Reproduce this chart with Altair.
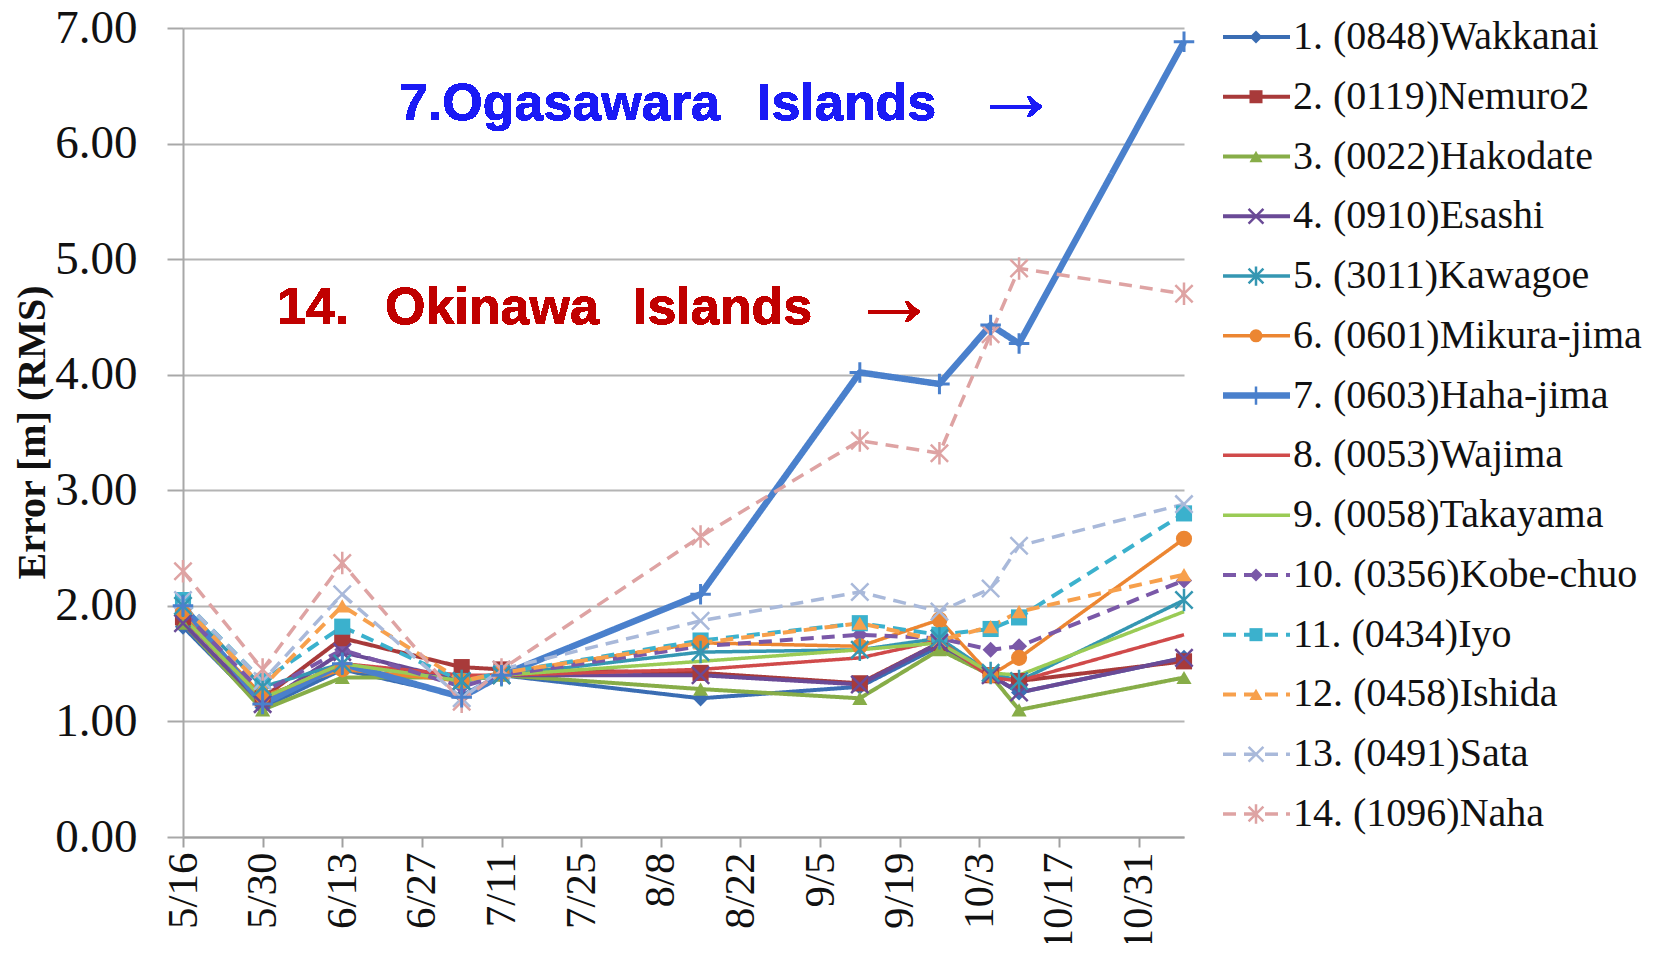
import altair as alt
import pandas as pd

# ---- data ----
dates = ["2013-05-16", "2013-05-30", "2013-06-13", "2013-07-04", "2013-07-11",
         "2013-08-15", "2013-09-12", "2013-09-26", "2013-10-05", "2013-10-10",
         "2013-11-08"]
tick_dates = ["2013-05-16", "2013-05-30", "2013-06-13", "2013-06-27", "2013-07-11",
              "2013-07-25", "2013-08-08", "2013-08-22", "2013-09-05", "2013-09-19",
              "2013-10-03", "2013-10-17", "2013-10-31"]
names = ["1. (0848)Wakkanai", "2. (0119)Nemuro2", "3. (0022)Hakodate",
         "4. (0910)Esashi", "5. (3011)Kawagoe", "6. (0601)Mikura-jima",
         "7. (0603)Haha-jima", "8. (0053)Wajima", "9. (0058)Takayama",
         "10. (0356)Kobe-chuo", "11. (0434)Iyo", "12. (0458)Ishida",
         "13. (0491)Sata", "14. (1096)Naha"]

wakkanai = [1.82, 1.12, 1.45, 1.22, 1.40, 1.20, 1.30, 1.65, 1.40, 1.25, 1.55]
nemuro2  = [1.90, 1.20, 1.72, 1.47, 1.45, 1.42, 1.33, 1.68, 1.40, 1.35, 1.52]
hakodate = [1.85, 1.10, 1.38, 1.38, 1.40, 1.28, 1.20, 1.62, 1.40, 1.10, 1.38]
esashi   = [1.85, 1.15, 1.60, 1.35, 1.40, 1.40, 1.32, 1.68, 1.40, 1.25, 1.55]
kawagoe  = [2.00, 1.30, 1.50, 1.35, 1.40, 1.60, 1.62, 1.72, 1.42, 1.35, 2.05]
mikura   = [1.95, 1.22, 1.45, 1.35, 1.42, 1.68, 1.65, 1.88, 1.40, 1.55, 2.58]
hahajima = [2.00, 1.15, 1.50, 1.21, 1.40, 2.10, 4.02, 3.92, 4.43, 4.27, 6.88]
wajima   = [1.90, 1.20, 1.50, 1.40, 1.40, 1.45, 1.55, 1.70, 1.38, 1.35, 1.75]
takayama = [1.90, 1.20, 1.50, 1.35, 1.40, 1.52, 1.62, 1.68, 1.42, 1.40, 1.95]
kobe     = [1.95, 1.25, 1.62, 1.30, 1.40, 1.65, 1.75, 1.72, 1.62, 1.65, 2.22]
iyo      = [2.05, 1.35, 1.82, 1.35, 1.42, 1.70, 1.85, 1.75, 1.80, 1.90, 2.80]
ishida   = [2.00, 1.30, 2.00, 1.35, 1.42, 1.68, 1.85, 1.70, 1.82, 1.95, 2.27]
sata     = [2.05, 1.35, 2.10, 1.20, 1.45, 1.87, 2.12, 1.95, 2.15, 2.52, 2.88]
naha     = [2.30, 1.45, 2.37, 1.17, 1.45, 2.60, 3.43, 3.32, 4.35, 4.92, 4.70]

series_values = [wakkanai, nemuro2, hakodate, esashi, kawagoe, mikura, hahajima,
                 wajima, takayama, kobe, iyo, ishida, sata, naha]

# ---- styles ----
colors = ["#3a6db3", "#a83a3a", "#87ad48", "#6a4a96", "#3597b2", "#ec8632",
          "#4a80cc", "#d04a4a", "#9acb55", "#7a58a8", "#3bb1cd", "#f7a04c",
          "#a9b9da", "#dea3a3"]
dashes = [[1, 0]] * 9 + [[13, 8]] * 5
widths = [4.0, 4.0, 4.0, 4.0, 3.5, 3.5, 6.5, 3.5, 3.5, 4.0, 4.0, 4.0, 3.5, 3.5]
X_PATH = "M-1,-1L1,1M-1,1L1,-1"
AST_PATH = "M-1,-1L1,1M-1,1L1,-1M0,-1.3L0,1.3"
PLUS_PATH = "M-1,0L1,0M0,-1L0,1"
filled_groups = {"diamond": [0, 9], "square": [1, 10], "triangle-up": [2, 11],
                 "circle": [5]}
stroke_groups = {X_PATH: [3, 12], AST_PATH: [4, 13], PLUS_PATH: [6]}

rows = []
for i, (n, vals) in enumerate(zip(names, series_values)):
    for d, v in zip(dates, vals):
        rows.append({"series": n, "idx": i, "date": d, "value": v, "sw": widths[i]})
df = pd.DataFrame(rows)
leg = pd.DataFrame({"series": names, "idx": list(range(len(names))), "sw": widths})

color_scale = alt.Scale(domain=names, range=colors)
dash_scale = alt.Scale(domain=names, range=dashes)

SERIF = "Liberation Serif"
SANS = "Liberation Sans"
W, H = 1001, 809

x_enc = alt.X("date:T",
              scale=alt.Scale(domain=[alt.DateTime(year=2013, month=5, date=16, utc=True),
                                      alt.DateTime(year=2013, month=11, date=8, utc=True)]),
              axis=alt.Axis(values=[alt.DateTime(year=int(t[:4]), month=int(t[5:7]), date=int(t[8:]), utc=True)
                                    for t in tick_dates],
                            labelExpr="utcFormat(datum.value, '%-m/%-d')",
                            labelAngle=270, labelAlign="right", labelBaseline="middle",
                            labelFont=SERIF, labelFontSize=43, labelColor="#111",
                            tickSize=10, tickColor="#a0a0a0", tickWidth=2,
                            labelPadding=5, domainColor="#a0a0a0", domainWidth=2,
                            grid=False, title=None, labelOverlap=False))
y_enc = alt.Y("value:Q",
              scale=alt.Scale(domain=[0, 7], nice=False),
              axis=alt.Axis(values=[0, 1, 2, 3, 4, 5, 6, 7], format=".2f",
                            labelFont=SERIF, labelFontSize=47, labelColor="#111",
                            tickSize=16, tickColor="#a8a8a8", tickWidth=2,
                            labelPadding=30, domainColor="#a8a8a8", domainWidth=2,
                            gridColor="#b4b4b4", gridWidth=2,
                            title="Error [m] (RMS)", titleFont=SERIF, titleFontSize=40,
                            titleFontWeight="bold", titleColor="#111",
                            titleAngle=270, titleX=-151, titleY=404,
                            titleAlign="center", titleBaseline="middle"))

base = alt.Chart(df)
color_enc = alt.Color("series:N", scale=color_scale, legend=None)
lines = base.mark_line(strokeJoin="round").encode(
    x=x_enc, y=y_enc,
    color=color_enc,
    strokeDash=alt.StrokeDash("series:N", scale=dash_scale, legend=None),
    strokeWidth=alt.StrokeWidth("sw:Q", scale=None),
    detail="series:N",
    order="date:T",
)

point_layers = []
for shp, idxs in filled_groups.items():
    point_layers.append(
        base.transform_filter(alt.FieldOneOfPredicate(field="series", oneOf=[names[i] for i in idxs]))
        .mark_point(filled=True, opacity=1, size=260 if shp != "triangle-up" else 230, shape=shp)
        .encode(x="date:T", y="value:Q", color=color_enc))
for shp, idxs in stroke_groups.items():
    point_layers.append(
        base.transform_filter(alt.FieldOneOfPredicate(field="series", oneOf=[names[i] for i in idxs]))
        .mark_point(filled=False, opacity=1, size=420 if shp == PLUS_PATH else 300,
                    strokeWidth=3 if shp == PLUS_PATH else 2.5, shape=shp)
        .encode(x="date:T", y="value:Q", color=color_enc))

# annotations
ann_blue = "#1a1af5"
ann_red = "#c00000"


def ann(txt, x, y, col, font=SANS, size=52, weight="bold"):
    return alt.Chart(df).mark_text(text=txt, font=font, fontSize=size, fontWeight=weight,
                                   color=col, align="left", baseline="alphabetic").encode(
        x=alt.value(x), y=alt.value(y))


anns = [
    ann("7.Ogasawara", 216, 92, ann_blue),
    ann("Islands", 574, 92, ann_blue),
    ann("→", 790, 93, ann_blue, font=SERIF, size=86, weight="normal"),
    ann("14.", 94, 296, ann_red),
    ann("Okinawa", 202, 296, ann_red),
    ann("Islands", 450, 296, ann_red),
    ann("→", 668, 298, ann_red, font=SERIF, size=86, weight="normal"),
]

main = alt.layer(lines, *point_layers, *anns)

# legend drawn as layers with its own y scale
leg_y = alt.Y("idx:Q", scale=alt.Scale(domain=[-0.15, 13.385], reverse=True, nice=False, zero=False),
              axis=None)
lb = alt.Chart(leg)
leg_rule = lb.mark_rule().encode(
    x=alt.value(1040), x2=alt.value(1107), y=leg_y,
    color=color_enc,
    strokeDash=alt.StrokeDash("series:N", scale=dash_scale, legend=None),
    strokeWidth=alt.StrokeWidth("sw:Q", scale=None),
)
leg_layers = [leg_rule]
for shp, idxs in filled_groups.items():
    leg_layers.append(
        lb.transform_filter(alt.FieldOneOfPredicate(field="series", oneOf=[names[i] for i in idxs]))
        .mark_point(filled=True, opacity=1, size=170, shape=shp)
        .encode(x=alt.value(1073), y=leg_y, color=color_enc))
for shp, idxs in stroke_groups.items():
    leg_layers.append(
        lb.transform_filter(alt.FieldOneOfPredicate(field="series", oneOf=[names[i] for i in idxs]))
        .mark_point(filled=False, opacity=1, size=330 if shp == PLUS_PATH else 220,
                    strokeWidth=2.5, shape=shp)
        .encode(x=alt.value(1073), y=leg_y, color=color_enc))
leg_text = lb.mark_text(font=SERIF, fontSize=40, color="#111", align="left",
                        baseline="middle").encode(
    x=alt.value(1110), y=leg_y, text="series:N")
leg_layers.append(leg_text)
legend_layer = alt.layer(*leg_layers)

chart = alt.layer(main, legend_layer).resolve_scale(
    y="independent"
).properties(
    width=W, height=H,
    autosize=alt.AutoSizeParams(type="none"),
    padding={"left": 175, "top": 20, "right": 474, "bottom": 106},
    background="white",
).configure_view(stroke=None)

chart.save("out.html", embed_options={"renderer": "svg", "actions": False})
